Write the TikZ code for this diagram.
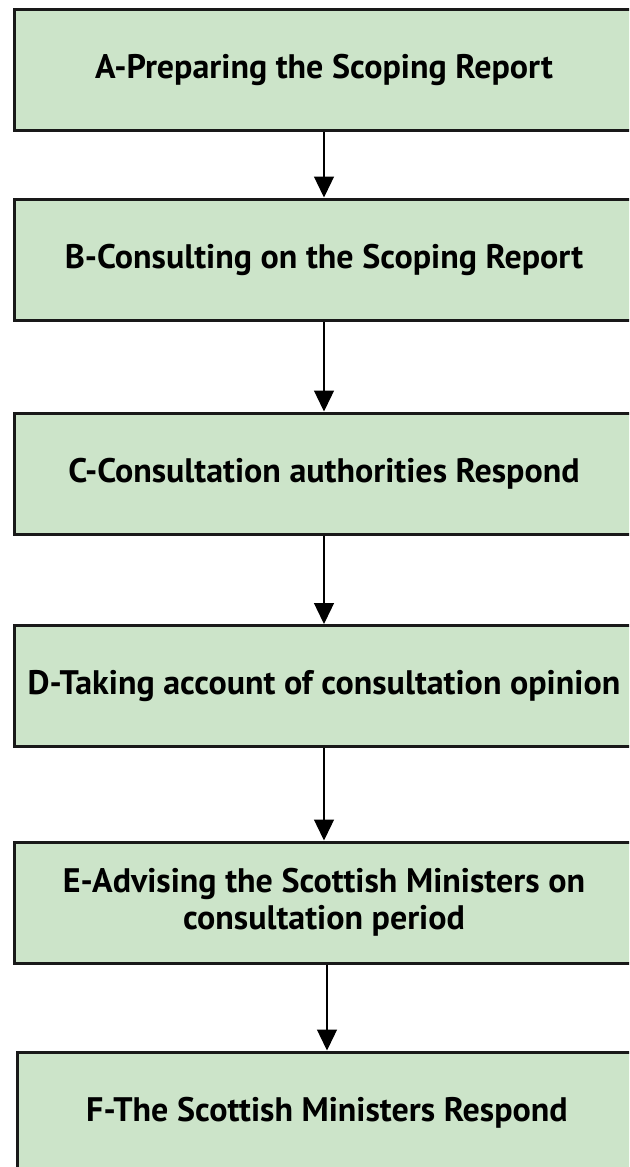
\documentclass[tikz,border=0pt]{standalone}
\usepackage{fontspec}
\setmainfont{PT Sans}
\usetikzlibrary{arrows.meta}
\definecolor{stagegreen}{RGB}{204,228,201}

\begin{document}
\begin{tikzpicture}[x=0.5pt, y=-0.5pt,
    stage/.style={draw=black!90, line width=1.5pt, fill=stagegreen,
      minimum width=310pt, minimum height=60.5pt, inner sep=0pt,
      align=center, font=\fontsize{17}{18.5}\selectfont\bfseries},
    flow/.style={line width=0.65pt, black, -{Triangle[width=10pt, length=10.5pt]}}]
  % Page frame
  \useasboundingbox (0,0) rectangle (629,1167);
  \clip (0,0) rectangle (629,1167);

  % Stages
  \node[stage] (prep)    at (324, 69.5)  {A-Preparing the Scoping Report};
  \node[stage] (consult) at (324, 259.5) {B-Consulting on the Scoping Report};
  \node[stage] (reply)   at (324, 473.5) {C-Consultation authorities Respond};
  \node[stage] (opinion) at (324, 686)   {D-Taking account of consultation opinion};
  \node[stage] (advise)  at (324, 902.5)
    {E-Advising the Scottish Ministers on\\consultation period};
  \node[stage] (respond) at (327, 1112.5) {F-The Scottish Ministers Respond};

  % Arrows
  \draw[flow] (prep)    -- (consult);
  \draw[flow] (consult) -- (reply);
  \draw[flow] (reply)   -- (opinion);
  \draw[flow] (opinion) -- (advise);
  \draw[flow] (advise.south -| respond) -- (respond.north);
\end{tikzpicture}
\end{document}
